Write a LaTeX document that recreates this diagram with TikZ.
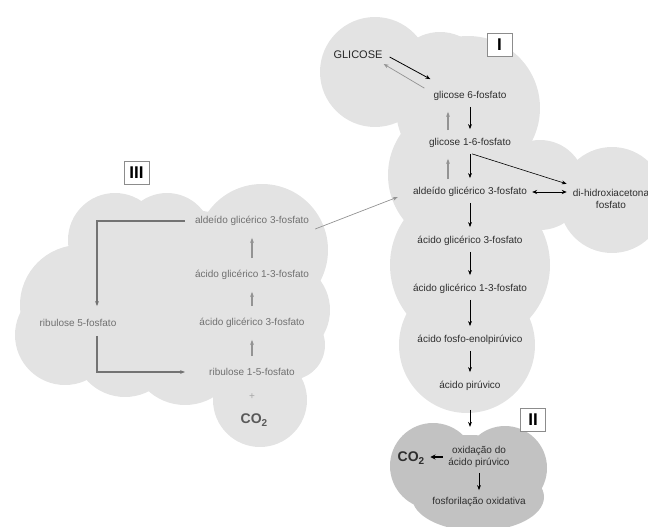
\documentclass[tikz,border=0pt]{standalone}
\usepackage{fontspec}
\setmainfont{Liberation Sans}
\usetikzlibrary{arrows.meta}
\definecolor{cloudA}{HTML}{E3E3E3}\definecolor{cloudB}{HTML}{C2C2C2}
\definecolor{txtA}{HTML}{2E2E2E}\definecolor{txtB}{HTML}{707070}\definecolor{lnB}{HTML}{939393}
\tikzset{lb/.style={font=\fontsize{10}{12.5}\selectfont,text=txtA,inner sep=1pt,align=center},lg/.style={lb,text=txtB},
nb/.style={draw=black!45,fill=white,line width=.7pt,minimum width=25pt,minimum height=23pt,inner sep=0pt,font=\fontsize{17}{17}\selectfont\bfseries},
co/.style={inner sep=1pt,font=\fontsize{14}{14}\selectfont\bfseries},
ar/.style={-{Stealth[length=5pt,width=3.8pt]},line width=.6pt},ag/.style={ar,draw=lnB,line width=1.2pt}}
\begin{document}
\begin{tikzpicture}[x=1pt,y=-1pt]
\useasboundingbox(0,0)rectangle(648,527);
\foreach\x/\y/\r in{375/72/55,440/80/48,468/108/72,460/175/72,540/185/45,612/200/53,470/265/80,467/345/68}\fill[cloudA](\x,\y)circle(\r pt);
\foreach\x/\y/\r in{115/240/47,167/238/45,262/250/66,80/305/60,65/335/50,125/345/52,185/350/55,280/310/50,290/345/35,260/400/47,190/300/90}\fill[cloudA](\x,\y)circle(\r pt);
\fill[cloudB](433,466)circle(43pt)(505,468)circle(42pt)(478,497)ellipse(66pt and 34pt)(470,470)ellipse(60pt and 35pt);
\node[lb,font=\fontsize{11}{12}\selectfont,text=black!85](glc)at(358,55){GLICOSE};
\node[lb](g6)at(470,96){glicose 6-fosfato};\node[lb](g16)at(470,143){glicose 1-6-fosfato};
\node[lb](ald)at(470,192){aldeído glicérico 3-fosfato};\node[lb](dih)at(611,199){di-hidroxiacetona\\fosfato};
\node[lb](a3)at(470,241){ácido glicérico 3-fosfato};\node[lb](a13)at(470,289){ácido glicérico 1-3-fosfato};
\node[lb](fe)at(470,340){ácido fosfo-enolpirúvico};\node[lb](pir)at(470,386){ácido pirúvico};
\node[nb](n1)at(499.5,44.5){I};
\node[lb](oxi)at(479,457){oxidação do\\ácido pirúvico};\node[lb](fos)at(479,502){fosforilação oxidativa};
\node[co,text=txtA](co2b)at(411,458){CO\raisebox{-.35ex}{\fontsize{10}{10}\selectfont 2}};
\node[nb](n2)at(533,419.5){II};
\node[lg](bald)at(252,221){aldeído glicérico 3-fosfato};\node[lg](ba13)at(252,275){ácido glicérico 1-3-fosfato};
\node[lg](ba3)at(252,323){ácido glicérico 3-fosfato};\node[lg](rib15)at(252,372){ribulose 1-5-fosfato};
\node[lg,text=black!35](pl)at(252,397){+};
\node[co,text=black!65](co2a)at(254,420){CO\raisebox{-.35ex}{\fontsize{10}{10}\selectfont 2}};
\node[lg](rib5)at(78,323){ribulose 5-fosfato};\node[nb](n3)at(136.5,173){III};
\draw[ar,line width=.8pt]([xshift=6pt,yshift=-2pt]glc.east)--([xshift=-2pt,yshift=11pt]g6.north west);
\draw[ag,line width=.7pt]([xshift=-8pt,yshift=2pt]g6.north west)--([yshift=-9pt]glc.east);
\foreach\a/\b in{g6/g16,g16/ald,ald/a3,a3/a13,a13/fe,fe/pir}\draw[ar,shorten <=5pt,shorten >=8pt](\a.south)--(\b.north);
\foreach\a/\b in{g16/g6,ald/g16}\draw[ag,shorten <=7pt,shorten >=10pt]([xshift=-22pt]\a.north)--([xshift=-22pt]\b.south);
\draw[ar]([xshift=2pt,yshift=-5pt]g16.south)--([xshift=-5pt,yshift=4pt]dih.north west);
\draw[{Stealth[length=5pt,width=4.2pt]}-{Stealth[length=5pt,width=4.2pt]},line width=1pt,shorten <=4pt,shorten >=5pt](ald.east)--(ald.east-|dih.west);
\draw[ar,shorten <=18pt,shorten >=18pt](pir.south)--(pir.south|-oxi.north);
\draw[-{Stealth[length=5pt,width=5pt]},line width=1.2pt,shorten <=4.5pt,shorten >=5pt](oxi.west)--(oxi.west-|co2b.east);
\draw[ar,shorten <=4pt,shorten >=6pt](oxi.south)--(fos.north);
\foreach\a/\b in{rib15/ba3,ba3/ba13,ba13/bald}\draw[ag,shorten <=11pt,shorten >=11pt](\a.north)--(\b.south);
\draw[ag,draw=black!55]([xshift=-9pt]bald.west)-|([xshift=19pt,yshift=12pt]rib5.north);
\draw[ag,line width=1.5pt,draw=black!55]([xshift=19pt,yshift=-8pt]rib5.south)|-([xshift=-23pt]rib15.west);
\draw[ag,line width=.7pt]([xshift=5pt,yshift=-8pt]bald.east)--([xshift=-14pt,yshift=-5pt]ald.west);
\end{tikzpicture}
\end{document}
